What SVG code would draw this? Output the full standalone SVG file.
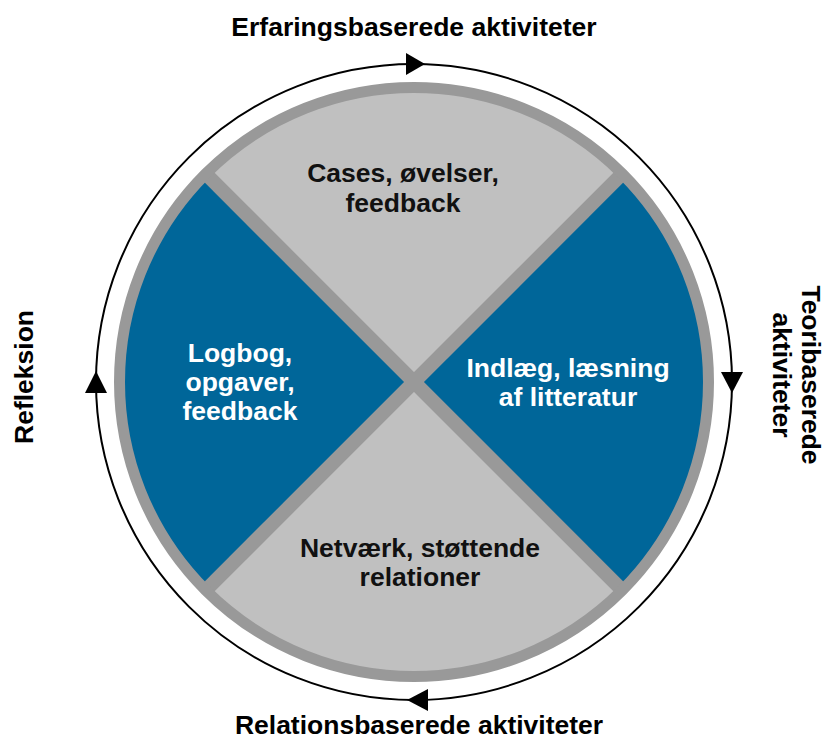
<svg xmlns="http://www.w3.org/2000/svg" width="826" height="741" viewBox="0 0 826 741">
<style>
.t{font-family:"Liberation Sans",Arial,sans-serif;font-weight:bold;font-size:26.5px;text-anchor:middle}
.dk{fill:#111111}
.wh{fill:#ffffff}
.blk{fill:#000000}
</style>
<rect width="826" height="741" fill="#ffffff"/>
<g id="cycle">
<circle cx="414" cy="382" r="318" fill="none" stroke="#000" stroke-width="2"/>
<polygon points="425,64 406,53 406,75" fill="#000"/>
<polygon points="732,393 721,372 743,372" fill="#000"/>
<polygon points="96,371 85,393 107,393" fill="#000"/>
<polygon points="407,700 428,689 428,711" fill="#000"/>
</g>
<g id="wheel">
<circle cx="414" cy="382" r="292" fill="#C0C0C0"/>
<path d="M414,382 L205.4,173.4 A295,295 0 0 0 205.4,590.6 Z" fill="#006699"/>
<path d="M414,382 L622.6,173.4 A295,295 0 0 1 622.6,590.6 Z" fill="#006699"/>
<line x1="205.4" y1="173.4" x2="622.6" y2="590.6" stroke="#999999" stroke-width="14"/>
<line x1="622.6" y1="173.4" x2="205.4" y2="590.6" stroke="#999999" stroke-width="14"/>
<circle cx="414" cy="382" r="294.5" fill="none" stroke="#999999" stroke-width="11"/>
</g>
<g id="top-sector"><text class="t dk" x="403" y="182">Cases, øvelser,<tspan x="403" dy="30">feedback</tspan></text></g>
<g id="left-sector"><text class="t wh" x="240" y="362">Logbog,<tspan x="240" dy="29">opgaver,</tspan><tspan x="240" dy="29">feedback</tspan></text></g>
<g id="right-sector"><text class="t wh" x="568" y="377">Indlæg, læsning<tspan x="568" dy="29">af litteratur</tspan></text></g>
<g id="bottom-sector"><text class="t dk" x="420" y="557">Netværk, støttende<tspan x="420" dy="29">relationer</tspan></text></g>
<g id="labels">
<text class="t blk" x="414" y="36">Erfaringsbaserede aktiviteter</text>
<text class="t blk" x="419" y="734">Relationsbaserede aktiviteter</text>
<text class="t blk" transform="translate(33,377) rotate(-90)">Refleksion</text>
<text class="t blk" transform="translate(802,375) rotate(90)">Teoribaserede<tspan x="0" dy="29">aktiviteter</tspan></text>
</g>
</svg>
